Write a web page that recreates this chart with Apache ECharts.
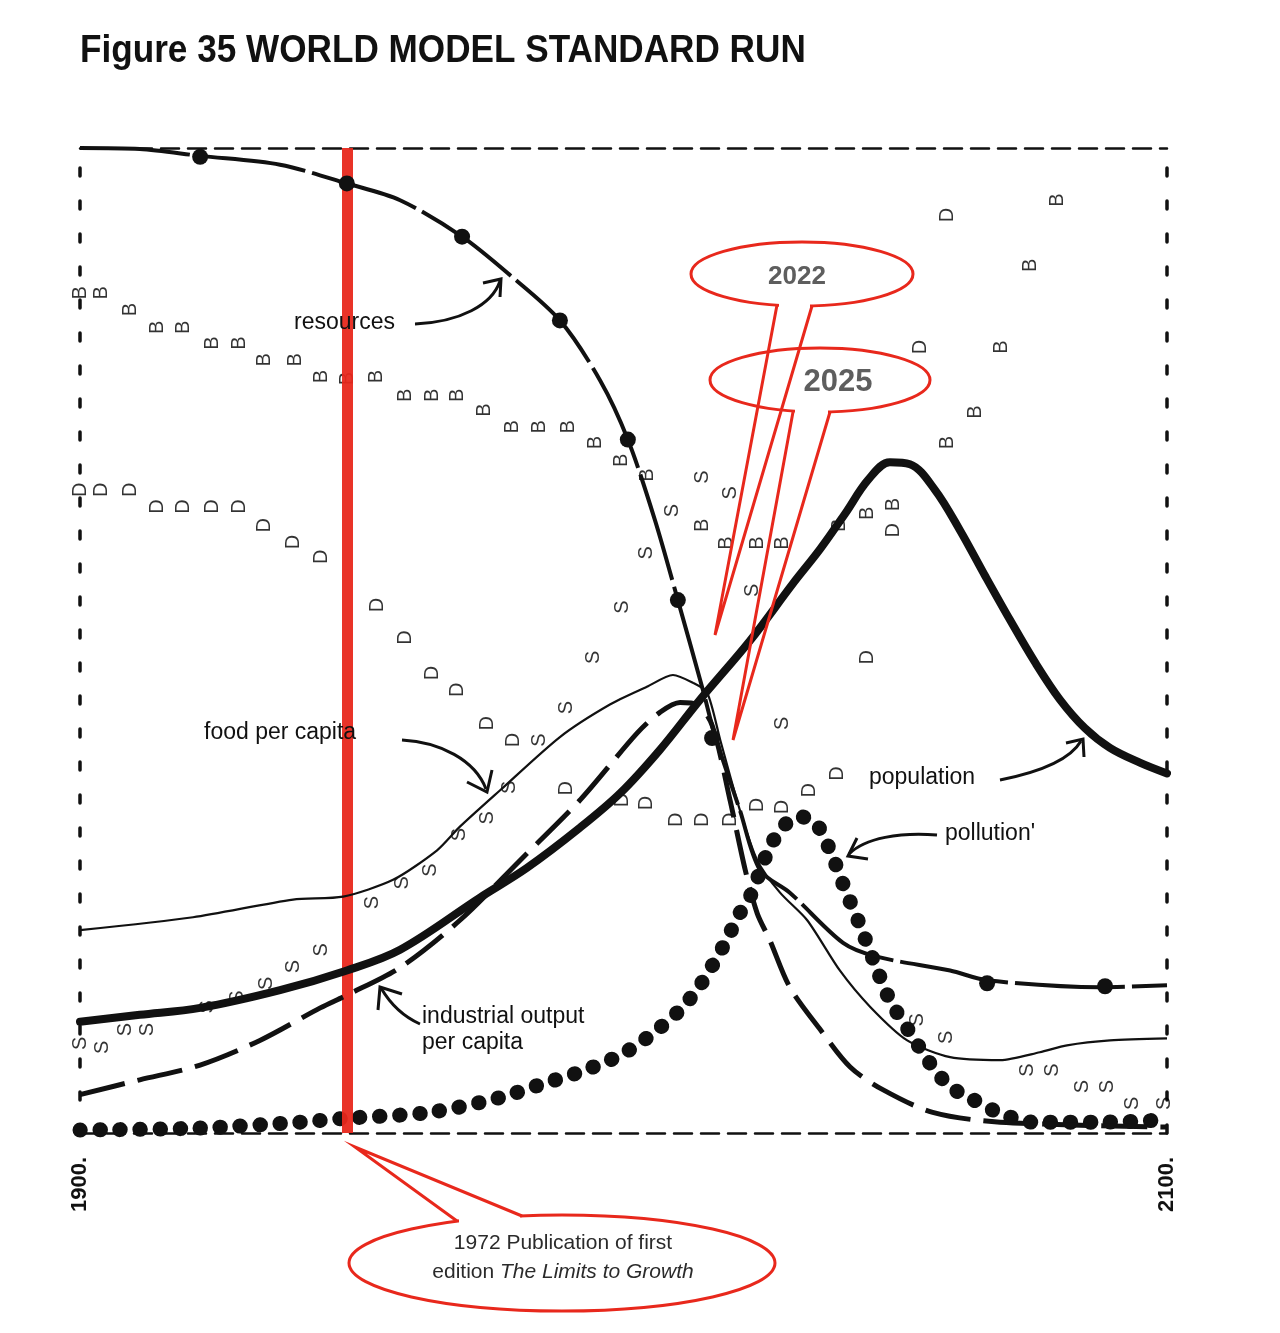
<!DOCTYPE html>
<html>
<head>
<meta charset="utf-8">
<script src="https://cdn.jsdelivr.net/npm/echarts@6/dist/echarts.min.js"></script>
<style>
  html, body { margin: 0; padding: 0; background: #fff; }
  #chart { width: 1280px; height: 1333px; }
</style>
</head>
<body>
<div id="chart"></div>
<script>
// values: x = year, y = share of the (unlabelled) vertical scale, 0..100
const resources = [[1900,100],[1911,99.9],[1922.1,99.2],[1936.8,98.3],[1949.1,96.4],[1958.9,94.7],[1970.3,91.0],
  [1979.1,87.1],[1988.3,82.5],[1995.7,76.4],[2000.8,70.4],[2005.8,62.2],[2010.0,54.1],[2014.6,45.0],[2016.8,40.4],
  [2021.4,32.8],[2025.1,26.7],[2030.6,24.4],[2040.4,19.3],[2046.6,17.9],[2060.1,16.5],[2066.9,15.5],[2087.7,14.8],[2100,15.0]];
const resourceDots = [[1922.1,99.1],[1949.1,96.4],[1970.3,91.0],[1988.3,82.5],[2000.8,70.4],[2010.0,54.1],
  [2016.3,40.1],[2066.9,15.2],[2088.6,14.9]];
const population = [[1900,11.3],[1911,12.0],[1922.1,12.7],[1936.8,14.5],[1949.1,16.5],[1958.9,18.6],[1973.6,23.9],
  [1982.2,26.9],[1992.0,31.0],[1999.4,34.5],[2006.7,38.9],[2014.1,44.0],[2023.3,50.0],[2031.2,55.8],[2036.2,59.3],
  [2040.8,62.9],[2045.0,66.3],[2049.0,68.1],[2052.7,67.9],[2057.3,65.3],[2061.9,61.2],[2066.5,56.6],[2071.1,52.1],
  [2075.7,47.8],[2080.3,44.0],[2084.9,41.1],[2089.5,39.1],[2095.0,37.6],[2100,36.5]];
const food = [[1900,20.6],[1920.8,21.9],[1939.2,23.7],[1948.4,24.0],[1957.6,25.7],[1965.7,28.7],[1969.9,31.1],
  [1977.3,34.8],[1988.3,40.2],[1997.5,43.5],[2004.3,45.3],[2009.1,46.5],[2012.8,45.7],[2015.4,44.7],[2017.8,39.9],
  [2021.4,32.8],[2024.6,27.7],[2028.8,24.4],[2033.8,21.6],[2039.8,16.5],[2045.4,12.8],[2052.2,9.4],[2060.1,7.7],
  [2069.3,7.4],[2076.6,8.2],[2081.6,8.9],[2089.5,9.4],[2100,9.6]];
const industry = [[1900,3.9],[1911,5.4],[1922.1,6.9],[1933.1,9.4],[1944.2,12.7],[1949.1,14.0],[1958.9,16.8],
  [1969.9,21.6],[1981.0,27.7],[1992.0,33.8],[2002.5,40.6],[2006.7,42.7],[2010.4,43.7],[2013.5,43.5],[2016.3,41.4],
  [2019.6,33.8],[2022.4,26.7],[2024.6,22.3],[2026.9,19.6],[2030.6,14.8],[2036.2,10.5],[2041.7,6.7],[2047.7,4.4],
  [2056.9,2.1],[2069.3,1.1],[2100,0.6]];
const pollution = [[1900,0.3],[1922.1,0.5],[1940.5,1.1],[1949.1,1.5],[1964.4,2.1],[1977.3,3.6],[1984.6,4.9],
  [1992.0,6.2],[1999.4,7.9],[2004.9,9.9],[2010.4,12.5],[2014.1,15.0],[2018.3,18.9],[2021.4,22.3],[2023.3,24.0],
  [2026.9,29.0],[2029.7,31.3],[2032.5,32.1],[2035.2,31.6],[2038.0,28.7],[2040.8,24.7],[2043.5,21.1],[2046.3,17.1],
  [2049.0,13.5],[2052.7,10.2],[2056.9,6.7],[2060.1,4.7],[2064.3,3.4],[2069.3,2.0],[2075.3,1.1],[2087.7,1.1],[2098.7,1.3]];
// printed letter marks: B = birth rate, D = death rate, S = services per capita
const birthMarks = [[1900,85.3],[1904,85.3],[1909.2,83.6],[1914.2,81.8],[1919,81.8],[1924.3,80.2],[1929.4,80.2],
  [1934,78.5],[1939.6,78.5],[1944.5,76.8],[1949.3,76.6],[1954.6,76.8],[1959.8,74.9],[1964.8,74.9],[1969.5,74.9],
  [1974.5,73.4],[1979.5,71.7],[1984.6,71.7],[1989.8,71.7],[1994.8,70.1],[1999.7,68.3],[2004.5,66.8],[2014.6,61.7],
  [2019,59.9],[2024.6,59.9],[2029.3,59.9],[2039.8,61.7],[2044.8,62.9],[2049.6,63.8],[2059.7,70.1],[2064.7,73.2],
  [2069.6,79.8],[2074.8,88.1],[2079.8,94.7]];
const deathMarks = [[1900,65.3],[1904,65.3],[1909.2,65.3],[1914.2,63.6],[1919,63.6],[1924.3,63.6],[1929.4,63.6],
  [1934,61.7],[1939.2,60.0],[1944.5,58.5],[1954.8,53.6],[1959.8,50.3],[1964.8,46.7],[1969.5,45.0],[1974.9,41.6],
  [1979.7,39.9],[1989.6,35.0],[1999.9,33.8],[2004.3,33.5],[2009.8,31.8],[2014.6,31.8],[2019.6,31.8],[2024.6,33.3],
  [2029.3,33.1],[2034.3,34.8],[2039.3,36.5],[2044.8,48.3],[2049.6,61.2],[2054.6,79.8],[2059.7,93.2]];
const serviceMarks = [[1900,9.1],[1904.2,8.7],[1908.3,10.5],[1912.5,10.5],[1923.4,12.8],[1928.9,13.8],[1934.4,15.2],
  [1939.2,16.9],[1944.5,18.6],[1953.9,23.4],[1959.4,25.4],[1964.4,26.7],[1969.9,30.3],[1974.9,32.0],[1979.1,35.1],
  [1984.6,39.9],[1989.6,43.2],[1994.4,48.3],[1999.9,53.4],[2004.3,58.9],[2009.1,63.2],[2014.6,66.6],[2019.6,65.0],
  [2023.8,55.1],[2029.3,41.6],[2054.0,11.5],[2059.5,9.7],[2074.4,6.4],[2079.0,6.4],[2084.5,4.7],[2089.0,4.7],
  [2093.7,3.0],[2099.6,3.0]];
const publicationMark = 1949.1;

const INK = '#111';
const RED = '#e8281c';
const SANS = '"Liberation Sans", Arial, sans-serif';

function letterSeries(name, data, letter) {
  return {
    name: name, type: 'scatter', data: data, symbolSize: 1, z: 3,
    itemStyle: { color: 'rgba(0,0,0,0)' },
    label: { show: true, position: 'inside', formatter: letter, rotate: 90,
      fontFamily: SANS, fontSize: 20, color: '#000' }
  };
}

function label(text, x, y) {
  return { type: 'text', x: x, y: y, z: 100,
    style: { text: text, font: '23px ' + SANS, fill: INK, verticalAlign: 'middle', textVerticalAlign: 'middle' } };
}
function arrow(x1, y1, c1x, c1y, c2x, c2y, x2, y2, head) {
  return [
    { type: 'bezierCurve', z: 100, shape: { x1: x1, y1: y1, cpx1: c1x, cpy1: c1y, cpx2: c2x, cpy2: c2y, x2: x2, y2: y2 },
      style: { stroke: INK, lineWidth: 3, fill: null } },
    { type: 'polyline', z: 100, shape: { points: head }, style: { stroke: INK, lineWidth: 3, fill: null } }
  ];
}
// bubble outline: ellipse, a white patch to open it where the tail joins, then the tail
function bubble(cx, cy, rx, ry, base1, tip, base2, filled) {
  return [
    { type: 'ellipse', z: 110, shape: { cx: cx, cy: cy, rx: rx, ry: ry },
      style: { fill: filled ? '#fff' : null, stroke: RED, lineWidth: 3 } },
    { type: 'polygon', z: 111, shape: { points: [[base1[0] + 2, base1[1] - 4], [base2[0] - 2, base2[1] - 4],
        [base2[0] - 2, base2[1] + 5], [base1[0] + 2, base1[1] + 5]] },
      style: { fill: '#fff' } },
    { type: 'polyline', z: 112, shape: { points: [base1, tip, base2] },
      style: { stroke: RED, lineWidth: 3, fill: null, lineJoin: 'miter' } }
  ];
}

const chart = echarts.init(document.getElementById('chart'));

const dashedFrame = { show: true, onZero: false, lineStyle: { color: INK, width: 2.5, type: [18, 9] } };
const dottedSide = { show: true, onZero: false, lineStyle: { color: INK, width: 3.5, type: [8, 25] } };

chart.setOption({
  backgroundColor: '#fff',
  animation: false,
  grid: { left: 80, right: 113, top: 148, bottom: 200 },
  xAxis: [
    { type: 'value', min: 1900, max: 2100, interval: 200, position: 'bottom',
      axisLine: dashedFrame, axisTick: { show: false }, splitLine: { show: false },
      axisLabel: { rotate: 90, margin: 24, formatter: function (v) { return v + '.'; },
        fontFamily: SANS, fontWeight: 'bold', fontSize: 22, color: INK } },
    { type: 'value', min: 1900, max: 2100, position: 'top',
      axisLine: dashedFrame, axisTick: { show: false }, splitLine: { show: false }, axisLabel: { show: false } }
  ],
  yAxis: [
    { type: 'value', min: 0, max: 100, position: 'left', axisLine: dottedSide,
      axisTick: { show: false }, splitLine: { show: false }, axisLabel: { show: false } },
    { type: 'value', min: 0, max: 100, position: 'right', axisLine: dottedSide,
      axisTick: { show: false }, splitLine: { show: false }, axisLabel: { show: false } }
  ],
  series: [
    letterSeries('birth rate', birthMarks, 'B'),
    letterSeries('death rate', deathMarks, 'D'),
    letterSeries('services per capita', serviceMarks, 'S'),
    { name: 'pollution', type: 'line', data: pollution, smooth: 0.3, symbol: 'none', z: 4,
      lineStyle: { color: INK, width: 15, type: [0.5, 19.5], cap: 'round' } },
    { name: 'food per capita', type: 'line', data: food, smooth: 0.25, symbol: 'none', z: 5,
      lineStyle: { color: INK, width: 2.2 } },
    { name: 'industrial output per capita', type: 'line', data: industry, smooth: 0.3, symbol: 'none', z: 5,
      lineStyle: { color: INK, width: 5, type: [46, 13] } },
    { name: 'resources', type: 'line', data: resources, smooth: 0.3, symbol: 'none', z: 6,
      lineStyle: { color: INK, width: 4, type: [110, 7] } },
    { name: 'resource marks', type: 'scatter', data: resourceDots, symbolSize: 16, z: 6,
      itemStyle: { color: INK, opacity: 1 } },
    { name: 'population', type: 'line', data: population, smooth: 0.35, symbol: 'none', z: 7,
      lineStyle: { color: INK, width: 8, cap: 'round' } },
    { name: '1972', type: 'line', data: [], z: 20,
      markLine: { silent: true, symbol: 'none', label: { show: false },
        lineStyle: { color: RED, width: 11, type: 'solid', opacity: 0.95 },
        data: [{ xAxis: publicationMark }] } }
  ],
  graphic: [
    { type: 'text', x: 80, y: 33, scaleX: 0.925, z: 100,
      style: { text: 'Figure 35 WORLD MODEL STANDARD RUN', font: 'bold 38px ' + SANS, fill: INK } },
    label('resources', 294, 323),
    label('food per capita', 204, 733),
    label('industrial output', 422, 1017),
    label('per capita', 422, 1043),
    label('population', 869, 778),
    label("pollution'", 945, 834)
  ]
    .concat(arrow(415, 324, 460, 322, 492, 305, 500, 281, [[483, 283], [501, 279], [500, 297]]))
    .concat(arrow(402, 740, 440, 742, 475, 760, 486, 789, [[467, 782], [487, 792], [492, 770]]))
    .concat(arrow(420, 1024, 400, 1015, 388, 1000, 381, 988, [[378, 1010], [380, 987], [402, 994]]))
    .concat(arrow(1000, 780, 1040, 772, 1070, 760, 1081, 741, [[1066, 743], [1083, 739], [1084, 757]]))
    .concat(arrow(937, 835, 900, 832, 865, 838, 849, 854, [[857, 838], [848, 856], [868, 859]]))
    .concat(bubble(562, 1263, 213, 48, [457, 1221], [355, 1147], [522, 1216], true))
    .concat(bubble(802, 274, 111, 32, [777, 305], [715, 635], [812, 306], false))
    .concat(bubble(820, 380, 110, 32, [793, 412], [733, 740], [830, 412], false))
    .concat([
      { type: 'text', x: 563, y: 1258, z: 120,
        style: { text: '1972 Publication of first\nedition {i|The Limits to Growth}',
          font: '21px ' + SANS, fill: '#2b2b2b', align: 'center', textAlign: 'center',
          verticalAlign: 'middle', textVerticalAlign: 'middle', lineHeight: 29,
          rich: { i: { fontStyle: 'italic', fontSize: 21, fontFamily: SANS, fill: '#2b2b2b' } } } },
      { type: 'text', x: 797, y: 277, z: 120,
        style: { text: '2022', font: 'bold 26px ' + SANS, fill: '#5e5e5e', align: 'center', textAlign: 'center',
          verticalAlign: 'middle', textVerticalAlign: 'middle' } },
      { type: 'text', x: 838, y: 382, z: 120,
        style: { text: '2025', font: 'bold 31px ' + SANS, fill: '#5e5e5e', align: 'center', textAlign: 'center',
          verticalAlign: 'middle', textVerticalAlign: 'middle' } }
    ])
});
</script>
</body>
</html>
